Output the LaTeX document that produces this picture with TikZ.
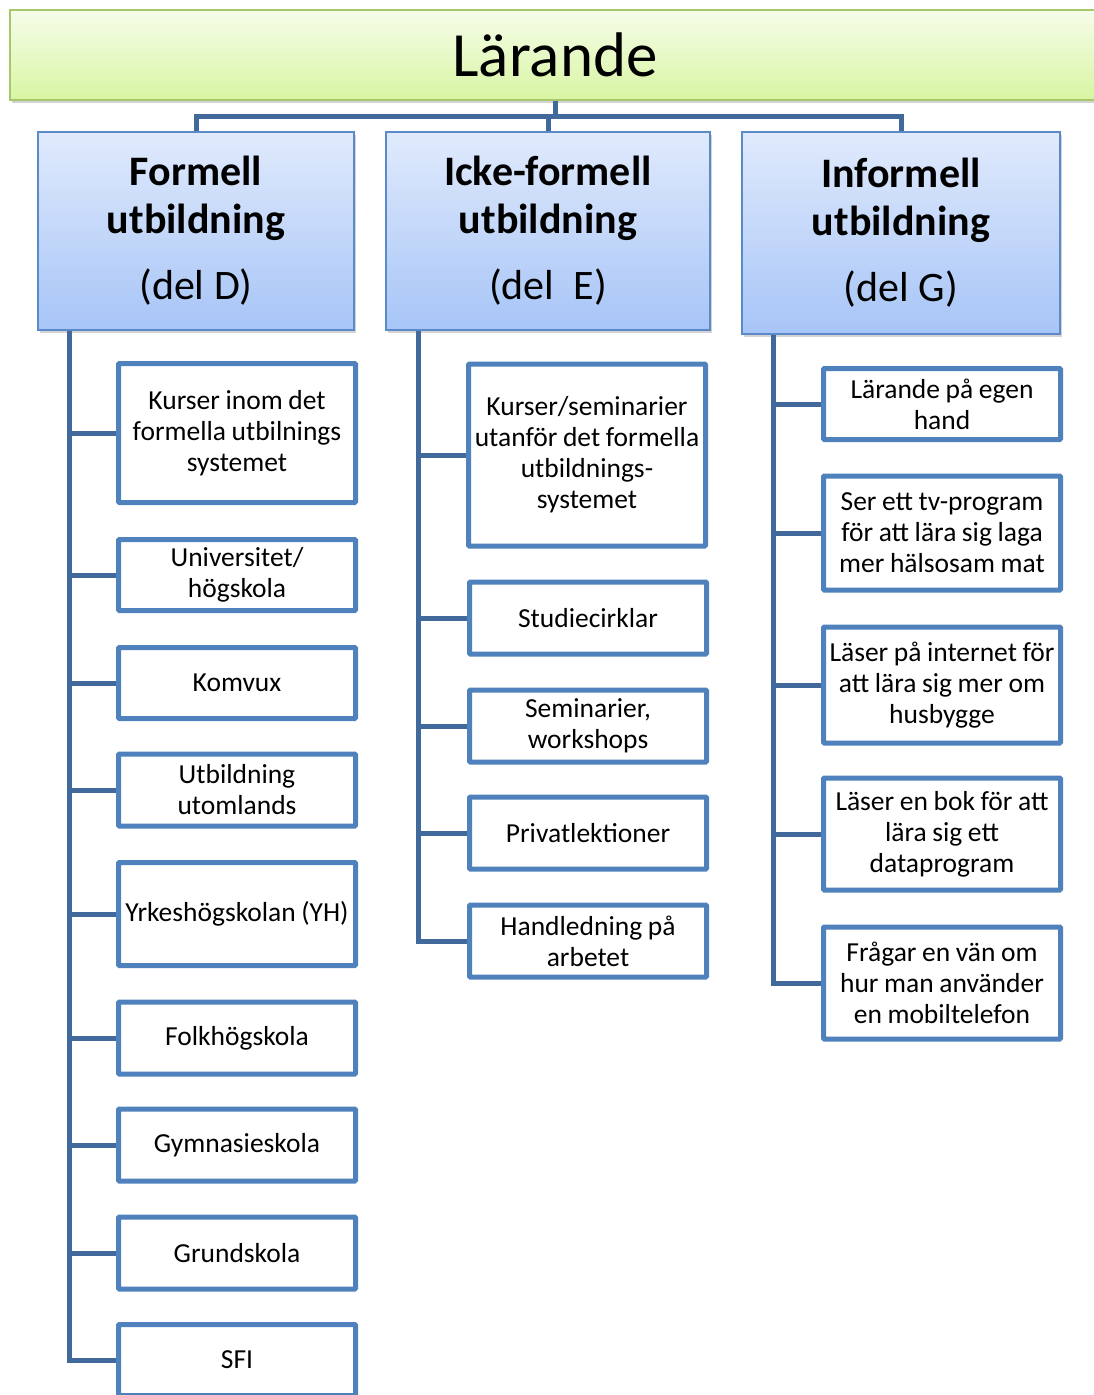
\documentclass[tikz,border=0pt]{standalone}
\usepackage{fontspec}
\setmainfont{Carlito}
\newfontfamily\itemfont{Carlito}[WordSpace=0.9]
\usetikzlibrary{positioning,shadows}

\definecolor{boxblue}{HTML}{4F81BD}
\definecolor{linkblue}{HTML}{41699C}
\definecolor{headedge}{HTML}{5B8AC9}
\definecolor{grnedge}{HTML}{A6C86A}

\tikzset{
	conn/.style={draw=linkblue, line width=5pt},
	itembox/.style={draw=boxblue, line width=5pt, fill=white, rounded corners=1pt,
		minimum width=237pt, align=center, inner sep=0pt,
		font=\itemfont\fontsize{27.5}{31}\selectfont},
	headbox/.style={draw=headedge, line width=1.5pt, top color={rgb,255:red,224;green,234;blue,252},
		bottom color={rgb,255:red,167;green,197;blue,247}, align=center, inner sep=0pt,
		drop shadow={opacity=0.35, shadow xshift=2pt, shadow yshift=-3pt},
		font=\fontsize{42}{48}\selectfont},
	topbox/.style={draw=grnedge, line width=1.5pt, top color={rgb,255:red,246;green,253;blue,234},
		bottom color={rgb,255:red,216;green,245;blue,162}, inner sep=0pt,
		drop shadow={opacity=0.35, shadow xshift=2pt, shadow yshift=-3pt},
		font=\fontsize{63}{76}\selectfont}
}

\begin{document}
\begin{tikzpicture}[x=1pt, y=-1pt]
	\useasboundingbox (0,0) rectangle (1093,1395);

	% Top banner
	\node[topbox, minimum width=1090, minimum height=90] (top) at (555,55) {Lärande};

	% Three kinds of learning
	\node[headbox, minimum width=316, minimum height=198] (formell) at (196,231)
		{\textbf{Formell}\\ \textbf{utbildning}\\[18pt] (del D)};
	\node[headbox, minimum width=324, minimum height=198] (ickeformell) at (548,231)
		{\textbf{Icke-formell}\\ \textbf{utbildning}\\[18pt] (del\ \ E)};
	\node[headbox, minimum width=318, minimum height=202] (informell) at (901,233)
		{\textbf{Informell}\\ \textbf{utbildning}\\[18pt] (del G)};

	\draw[conn] (top.south) -- ++(0,16) coordinate (hub);
	\draw[conn] (hub) -| (formell.north);
	\draw[conn] (hub) -| (ickeformell.north);
	\draw[conn] (hub) -| (informell.north);

	% -----------------------------------------------------
	% Formell utbildning
	\node[itembox, minimum height=139] (kurser) at (237,433) {Kurser inom det\\ formella utbilnings\\ systemet};
	\node[itembox, minimum height=71] (univ) at (237,575) {Universitet/\\ högskola};
	\node[itembox, minimum height=71] (komvux) at (237,683) {Komvux};
	\node[itembox, minimum height=72] (utland) at (237,790) {Utbildning\\ utomlands};
	\node[itembox, minimum height=103] (yh) at (237,914) {Yrkeshögskolan (YH)};
	\node[itembox, minimum height=72] (folk) at (237,1038) {Folkhögskola};
	\node[itembox, minimum height=72] (gymn) at (237,1145) {Gymnasieskola};
	\node[itembox, minimum height=72] (grund) at (237,1253) {Grundskola};
	\node[itembox, minimum height=71] (sfi) at (237,1360) {SFI};

	\draw[conn] ([xshift=32pt]formell.south west) coordinate (fstem) |- (sfi.west);
	\foreach \n in {kurser,univ,komvux,utland,yh,folk,gymn,grund}
		\draw[conn] (\n.west) -- (\n.west -| fstem);

	% -----------------------------------------------------
	% Icke-formell utbildning
	\node[itembox, minimum height=182] (seminarier) at (587,455) {Kurser/seminarier\\ utanför det formella\\ utbildnings-\\ systemet};
	\node[itembox, minimum height=72] (cirklar) at (588,618) {Studiecirklar};
	\node[itembox, minimum height=72] (workshops) at (588,726) {Seminarier,\\ workshops};
	\node[itembox, minimum height=72] (privat) at (588,833) {Privatlektioner};
	\node[itembox, minimum height=72] (handledning) at (588,941) {Handledning på\\ arbetet};

	\draw[conn] ([xshift=33pt]ickeformell.south west) coordinate (istem) |- (handledning.west);
	\foreach \n in {seminarier,cirklar,workshops,privat}
		\draw[conn] (\n.west) -- (\n.west -| istem);

	% -----------------------------------------------------
	% Informell utbildning
	\node[itembox, minimum height=71] (egen) at (942,404) {Lärande på egen\\ hand};
	\node[itembox, minimum height=114] (tv) at (942,533) {Ser ett tv-program\\ för att lära sig laga\\ mer hälsosam mat};
	\node[itembox, minimum height=116] (internet) at (942,685) {Läser på internet för\\ att lära sig mer om\\ husbygge};
	\node[itembox, minimum height=112] (bok) at (942,834) {Läser en bok för att\\ lära sig ett\\ dataprogram};
	\node[itembox, minimum height=112] (van) at (942,983) {Frågar en vän om\\ hur man använder\\ en mobiltelefon};

	\draw[conn] ([xshift=32pt]informell.south west) coordinate (gstem) |- (van.west);
	\foreach \n in {egen,tv,internet,bok}
		\draw[conn] (\n.west) -- (\n.west -| gstem);

\end{tikzpicture}
\end{document}
